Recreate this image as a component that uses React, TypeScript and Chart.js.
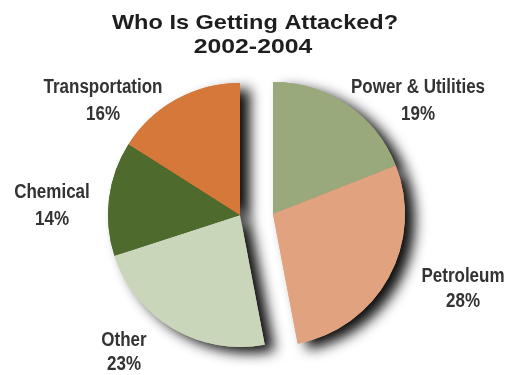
import React, { useEffect, useRef } from "react";
import { Chart, registerables } from "chart.js";

Chart.register(...registerables);

const categories = ["Power & Utilities", "Petroleum", "Other", "Chemical", "Transportation"];
const shares = [19, 28, 23, 14, 16];
const sliceColors = ["#9aa97b", "#e1a37f", "#c9d6b9", "#4e6b2d", "#d6783a"];
const shiftedSlices = [true, true, false, false, false];
const titleLines = ["Who Is Getting Attacked?", "2002-2004"];

// label anchor positions (layout only): x centre, first baseline, second baseline
const labelAnchors: [number, number, number][] = [
  [418, 93, 120],
  [463, 282, 307],
  [124, 346, 370],
  [52, 198, 225],
  [103, 93, 120],
];
const SHIFT_X = 33;
const SHIFT_Y = -1;

const piecePlugin = {
  id: "piecePlugin",
  afterDatasetsUpdate(chart: any) {
    const meta = chart.getDatasetMeta(0);
    meta.data.forEach((arc: any, i: number) => {
      if (shiftedSlices[i]) {
        arc.x += SHIFT_X;
        arc.y += SHIFT_Y;
      }
    });
  },
  beforeDatasetsDraw(chart: any) {
    const ctx = chart.ctx;
    const meta = chart.getDatasetMeta(0);
    ctx.save();
    ctx.shadowColor = "rgba(0,0,0,0.95)";
    ctx.shadowBlur = 13;
    ctx.shadowOffsetX = 10;
    ctx.shadowOffsetY = 6;
    meta.data.forEach((arc: any) => arc.draw(ctx));
    ctx.restore();
  },
  afterDraw(chart: any) {
    const ctx = chart.ctx;
    ctx.save();
    ctx.textAlign = "center";
    ctx.textBaseline = "alphabetic";
    ctx.fillStyle = "#1e1e1e";
    ctx.font = "bold 21px 'Liberation Sans', Arial, sans-serif";
    ctx.save();
    ctx.translate(255, 29);
    ctx.scale(1.12, 1);
    ctx.fillText(titleLines[0], 0, 0);
    ctx.restore();
    ctx.save();
    ctx.translate(253, 53);
    ctx.scale(1.18, 1);
    ctx.fillText(titleLines[1], 0, 0);
    ctx.restore();
    ctx.fillStyle = "#333";
    ctx.font = "bold 20px 'Liberation Sans', Arial, sans-serif";
    categories.forEach((c, i) => {
      const [x, y1, y2] = labelAnchors[i];
      ctx.save();
      ctx.translate(x, 0);
      ctx.scale(0.85, 1);
      ctx.fillText(c, 0, y1);
      ctx.fillText(shares[i] + "%", 0, y2);
      ctx.restore();
    });
    ctx.restore();
  },
};

export default function App() {
  const ref = useRef<HTMLCanvasElement | null>(null);
  useEffect(() => {
    if (!ref.current) return;
    const chart = new Chart(ref.current, {
      type: "pie",
      data: {
        labels: categories,
        datasets: [
          {
            data: shares,
            backgroundColor: sliceColors,
            borderWidth: 0,
          },
        ],
      },
      options: {
        animation: false,
        responsive: false,
        events: [],
        layout: { padding: { top: 83, bottom: 28, left: 108, right: 136 } },
        plugins: {
          legend: { display: false },
          tooltip: { enabled: false },
          title: { display: false },
        },
      },
      plugins: [piecePlugin],
    });
    return () => chart.destroy();
  }, []);
  return (
    <div style={{ position: "fixed", left: 0, top: 0, width: 508, height: 375, background: "#fff" }}>
      <canvas ref={ref} width={508} height={375} style={{ width: 508, height: 375 }} />
    </div>
  );
}
